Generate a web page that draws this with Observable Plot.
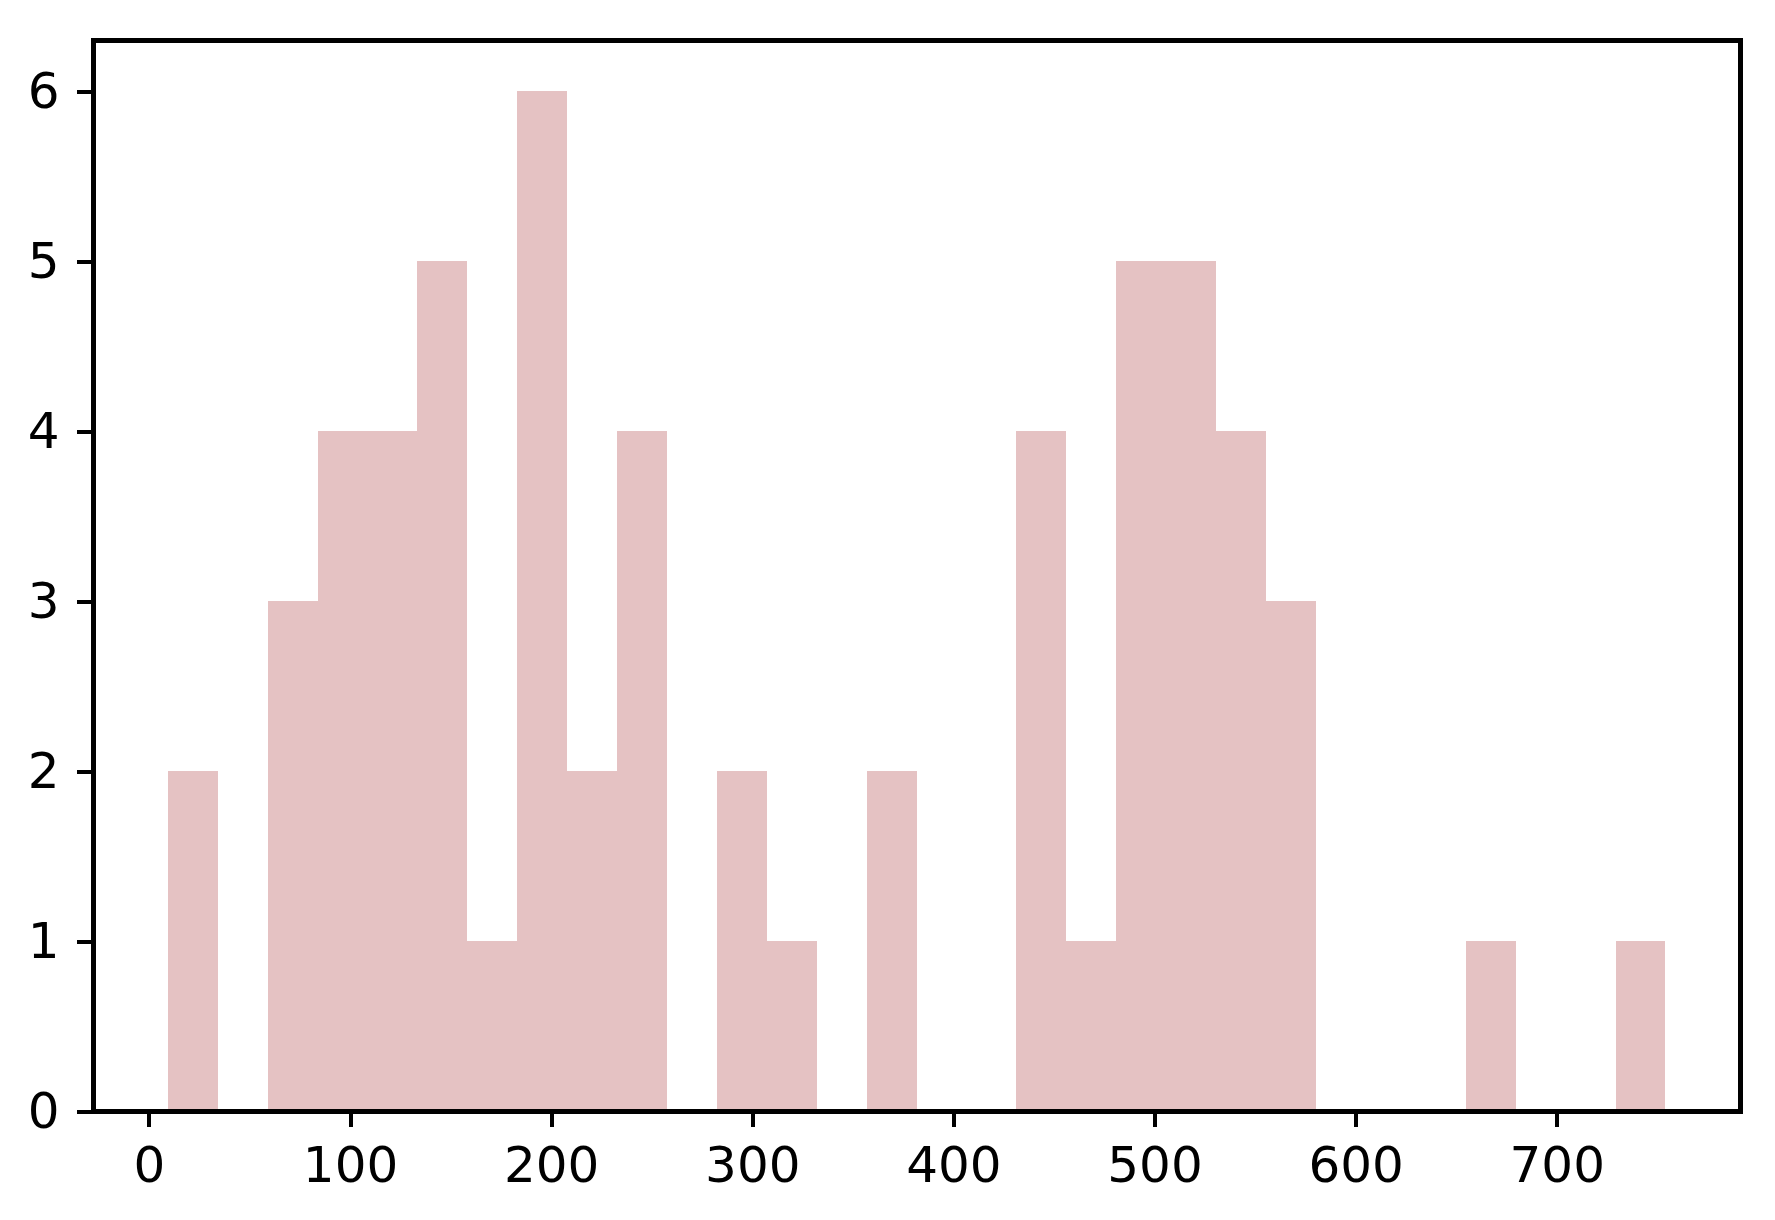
<!DOCTYPE html>
<html>
<head>
<meta charset="utf-8">
<script src="https://cdn.jsdelivr.net/npm/d3@7"></script>
<script src="https://cdn.jsdelivr.net/npm/@observablehq/plot@0.6"></script>
<style>
  html, body { margin: 0; padding: 0; background: #fff; }
  #chart svg { display: block; }
</style>
</head>
<body>
<div id="chart"></div>
<script>
// Histogram bin edges (31 edges -> 30 bins) and counts
const binEdges = [9.4, 34.2, 59.0, 83.9, 108.7, 133.5, 158.3, 183.1, 208.0, 232.8,
  257.6, 282.4, 307.2, 332.1, 356.9, 381.7, 406.5, 431.3, 456.2, 481.0,
  505.8, 530.6, 555.4, 580.3, 605.1, 629.9, 654.7, 679.5, 704.4, 729.2, 754.0];
const counts = [2, 0, 3, 4, 4, 5, 1, 6, 2, 4,
  0, 2, 1, 0, 2, 0, 0, 4, 1, 5,
  5, 4, 3, 0, 0, 0, 1, 0, 0, 1];
const xTicks = [0, 100, 200, 300, 400, 500, 600, 700];
const yTicks = [0, 1, 2, 3, 4, 5, 6];

const bins = counts.map((c, i) => ({x1: binEdges[i], x2: binEdges[i + 1], count: c}));

const font = "DejaVu Sans, sans-serif";
const chart = Plot.plot({
  width: 1775,
  height: 1220,
  marginLeft: 93,
  marginRight: 35,
  marginTop: 40,
  marginBottom: 109,
  style: {background: "#fff", color: "#000", fontFamily: font},
  x: {domain: [-27.8, 791.1]},
  y: {domain: [0, 6.3]},
  marks: [
    Plot.rectY(bins, {x1: "x1", x2: "x2", y: "count", fill: "#e5c2c3", shapeRendering: "crispEdges"}),
    Plot.frame({stroke: "#000", strokeWidth: 4.5, strokeOpacity: 1, shapeRendering: "crispEdges"}),
    Plot.axisX(xTicks, {anchor: "bottom", tickSize: 16, strokeWidth: 4, strokeOpacity: 1, tickPadding: 19, fontSize: 50, fontFamily: font, label: null, tickFormat: d3.format("d"), shapeRendering: "crispEdges"}),
    Plot.axisY(yTicks, {anchor: "left", tickSize: 16, strokeWidth: 4, strokeOpacity: 1, tickPadding: 18, fontSize: 50, fontFamily: font, label: null, tickFormat: d3.format("d"), shapeRendering: "crispEdges"})
  ]
});
document.getElementById("chart").appendChild(chart);
</script>
</body>
</html>
